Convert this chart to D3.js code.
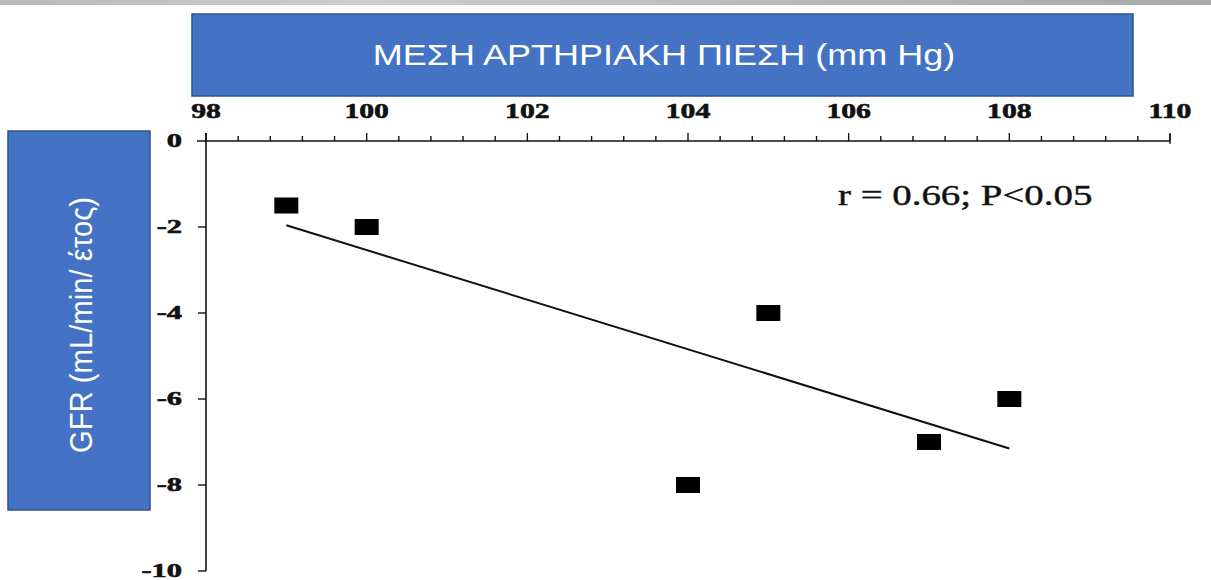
<!DOCTYPE html>
<html>
<head>
<meta charset="utf-8">
<script src="https://cdn.jsdelivr.net/npm/d3@7"></script>
<style>
	body { margin: 0; background: #fff; }
	svg { display: block; }
</style>
</head>
<body>
<div id="viz"></div>
<script>
// chart values
const X_LABEL = 'ΜΕΣΗ ΑΡΤΗΡΙΑΚΗ ΠΙΕΣΗ (mm Hg)';
const Y_LABEL = 'GFR (mL/min/ έτος)';
const NOTE = 'r = 0.66; P<0.05';

const pressure = [99, 100, 104, 105, 107, 108];
const gfr = [-1.5, -2, -8, -4, -7, -6];

// regression line ends
const fitX = [99, 108];
const fitY = [-1.96, -7.15];

const xTicks = [98, 100, 102, 104, 106, 108, 110];
const yTicks = [0, -2, -4, -6, -8, -10];

const WIDTH = 1211, HEIGHT = 580;
const BLUE = '#4472c4', BLUE_EDGE = '#2f528f';
const INK = '#111';

const svg = d3.select('#viz').append('svg')
	.attr('width', WIDTH)
	.attr('height', HEIGHT);

// stretch text horizontally the way the scanned figure is
function stretch(sel, factor) {
	sel.each(function() {
		const w = this.getComputedTextLength();
		d3.select(this).attr('textLength', w * factor).attr('lengthAdjust', 'spacingAndGlyphs');
	});
}

// grey band at the very top
const grad = svg.append('defs').append('linearGradient').attr('id', 'band');
grad.append('stop').attr('offset', '0%').attr('stop-color', '#b9b9b9');
grad.append('stop').attr('offset', '30%').attr('stop-color', '#cdcdcd');
grad.append('stop').attr('offset', '60%').attr('stop-color', '#bcbcbc');
grad.append('stop').attr('offset', '100%').attr('stop-color', '#a9a9a9');
svg.append('rect').attr('x', 0).attr('y', 0).attr('width', WIDTH).attr('height', 5)
	.attr('fill', 'url(#band)');

const xScale = d3.scaleLinear().domain([98, 110]).range([206, 1170]);
const yScale = d3.scaleLinear().domain([0, -10]).range([141, 571]);

// title box
svg.append('rect')
	.attr('x', 192).attr('y', 14).attr('width', 941).attr('height', 82)
	.attr('fill', BLUE).attr('stroke', BLUE_EDGE).attr('stroke-width', 1.5);
svg.append('text')
	.attr('x', 664).attr('y', 65)
	.attr('text-anchor', 'middle')
	.attr('fill', '#fff')
	.attr('font-family', '"Liberation Sans", Arial, sans-serif')
	.attr('font-size', 30)
	.text(X_LABEL)
	.call(stretch, 1.2);

// y label box
svg.append('rect')
	.attr('x', 8).attr('y', 131).attr('width', 142).attr('height', 379)
	.attr('fill', BLUE).attr('stroke', BLUE_EDGE).attr('stroke-width', 1.5);
svg.append('text')
	.attr('transform', 'translate(92,325) rotate(-90)')
	.attr('text-anchor', 'middle')
	.attr('fill', '#fff')
	.attr('font-family', '"Liberation Sans", Arial, sans-serif')
	.attr('font-size', 31)
	.attr('textLength', 256)
	.attr('lengthAdjust', 'spacingAndGlyphs')
	.text(Y_LABEL);

// axes
const axes = svg.append('g').attr('stroke', INK).attr('fill', 'none');

axes.append('line')
	.attr('x1', xScale(98) - 9).attr('x2', xScale(110))
	.attr('y1', yScale(0)).attr('y2', yScale(0))
	.attr('stroke-width', 1.6);
axes.append('line')
	.attr('x1', xScale(110)).attr('x2', xScale(110))
	.attr('y1', yScale(0) - 7).attr('y2', yScale(0) + 3)
	.attr('stroke-width', 1.4);

axes.append('line')
	.attr('x1', xScale(98)).attr('x2', xScale(98))
	.attr('y1', yScale(0) - 8).attr('y2', yScale(-10))
	.attr('stroke-width', 1.6);

const minor = d3.range(0, 31).map((i) => 98 + i * 0.4);
axes.selectAll('.x-tick')
	.data(minor)
	.enter()
	.append('line')
	.attr('class', 'x-tick')
	.attr('x1', (d) => xScale(d)).attr('x2', (d) => xScale(d))
	.attr('y1', yScale(0))
	.attr('y2', (d, i) => yScale(0) - (i % 5 === 0 ? 8 : 5))
	.attr('stroke-width', 1.4);

axes.selectAll('.y-tick')
	.data(yTicks.slice(1))
	.enter()
	.append('line')
	.attr('class', 'y-tick')
	.attr('x1', xScale(98) - 8).attr('x2', xScale(98))
	.attr('y1', (d) => yScale(d)).attr('y2', (d) => yScale(d))
	.attr('stroke-width', 1.4);

// tick labels
svg.append('g')
	.selectAll('text')
	.data(xTicks)
	.enter()
	.append('text')
	.attr('x', (d) => xScale(d))
	.attr('y', 118)
	.attr('text-anchor', 'middle')
	.attr('font-family', '"Liberation Serif", "Times New Roman", serif')
	.attr('font-weight', 'bold')
	.attr('font-size', 22)
	.attr('fill', INK)
	.attr('stroke', INK)
	.attr('stroke-width', 0.6)
	.text((d) => d)
	.call(stretch, 1.35);

svg.append('g')
	.selectAll('text')
	.data(yTicks)
	.enter()
	.append('text')
	.attr('x', 182)
	.attr('y', (d) => yScale(d) + 6)
	.attr('text-anchor', 'end')
	.attr('font-family', '"Liberation Serif", "Times New Roman", serif')
	.attr('font-weight', 'bold')
	.attr('font-size', 19)
	.attr('fill', INK)
	.attr('stroke', INK)
	.attr('stroke-width', 0.6)
	.text((d) => d === 0 ? '0' : '-' + Math.abs(d))
	.call(stretch, 1.6);

// fit line
svg.append('line')
	.attr('x1', xScale(fitX[0])).attr('y1', yScale(fitY[0]))
	.attr('x2', xScale(fitX[1])).attr('y2', yScale(fitY[1]))
	.attr('stroke', INK)
	.attr('stroke-width', 2);

// points
const points = pressure.map((p, i) => ({ x: p, y: gfr[i] }));
svg.append('g')
	.selectAll('rect')
	.data(points)
	.enter()
	.append('rect')
	.attr('x', (d) => xScale(d.x) - 12)
	.attr('y', (d) => yScale(d.y) - 8)
	.attr('width', 24)
	.attr('height', 16)
	.attr('fill', '#000');

// stats note
svg.append('text')
	.attr('x', 838).attr('y', 205)
	.attr('font-family', '"Liberation Serif", "Times New Roman", serif')
	.attr('font-size', 29)
	.attr('fill', INK)
	.attr('stroke', INK)
	.attr('stroke-width', 0.4)
	.text(NOTE)
	.call(stretch, 1.34);
</script>
</body>
</html>
